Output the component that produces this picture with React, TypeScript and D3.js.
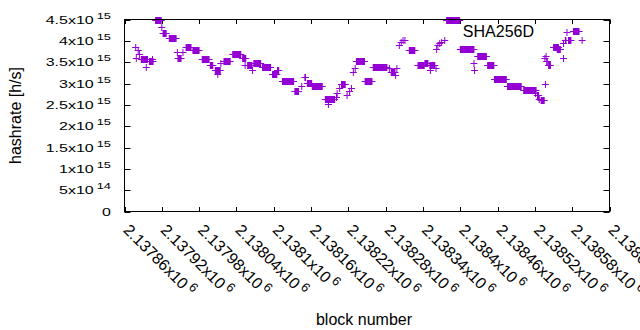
import React, { useEffect, useRef } from 'react';
import * as d3 from 'd3';

// runs of blocks that share the same hashrate estimate (start block, end block, h/s)
const runStart = [
	2137878, 2137882, 2137884, 2137879, 2137887, 2137895, 2137900, 2137905, 2137910, 2137920,
	2137922, 2137932, 2137945, 2137946, 2137954, 2137959, 2137970, 2137985, 2137998, 2138006,
	2138010, 2138015, 2138020, 2138034, 2138050, 2138054, 2138058, 2138066, 2138068, 2138082,
	2138098, 2138106, 2138114, 2138134, 2138145, 2138150, 2138154, 2138162, 2138183, 2138188,
	2138201, 2138202, 2138206, 2138209, 2138218, 2138222, 2138225, 2138228, 2138231, 2138233,
	2138247, 2138260, 2138286, 2138289, 2138298, 2138296, 2138302, 2138305, 2138308, 2138311,
	2138318, 2138332, 2138343, 2138351, 2138352, 2138361, 2138362, 2138364, 2138367, 2138370,
	2138375, 2138378, 2138400, 2138422, 2138423, 2138428, 2138444, 2138455, 2138476, 2138502,
	2138521, 2138524, 2138527, 2138530, 2138537, 2138536, 2138538, 2138539, 2138542, 2138550,
	2138556, 2138566, 2138566, 2138569, 2138574, 2138582, 2138596,
];
const runEnd = [
	2137878, 2137882, 2137884, 2137879, 2137897, 2137895, 2137906, 2137905, 2137919, 2137920,
	2137927, 2137943, 2137945, 2137951, 2137954, 2137967, 2137980, 2137996, 2138002, 2138014,
	2138010, 2138015, 2138030, 2138047, 2138055, 2138054, 2138065, 2138066, 2138079, 2138095,
	2138105, 2138108, 2138132, 2138140, 2138145, 2138151, 2138161, 2138178, 2138198, 2138188,
	2138201, 2138202, 2138206, 2138215, 2138218, 2138222, 2138225, 2138228, 2138231, 2138246,
	2138258, 2138282, 2138286, 2138295, 2138298, 2138296, 2138302, 2138305, 2138308, 2138311,
	2138327, 2138342, 2138348, 2138359, 2138352, 2138361, 2138362, 2138364, 2138367, 2138370,
	2138375, 2138399, 2138422, 2138422, 2138423, 2138442, 2138454, 2138474, 2138498, 2138522,
	2138521, 2138526, 2138527, 2138535, 2138537, 2138536, 2138538, 2138540, 2138545, 2138558,
	2138561, 2138566, 2138566, 2138570, 2138578, 2138591, 2138596,
];
const hashrate = [
	3.867e15, 3.774e15, 3.703e15, 3.586e15, 3.563e15, 3.398e15, 3.539e15, 3.563e15, 4.477e15, 4.313e15,
	4.195e15, 4.055e15, 3.727e15, 3.609e15, 3.727e15, 3.867e15, 3.785e15, 3.563e15, 3.422e15, 3.328e15,
	3.234e15, 3.492e15, 3.516e15, 3.691e15, 3.586e15, 3.422e15, 3.445e15, 3.305e15, 3.469e15, 3.398e15,
	3.211e15, 3.305e15, 3.07e15, 2.813e15, 2.953e15, 3.141e15, 3.012e15, 2.93e15, 2.625e15, 2.531e15,
	2.672e15, 2.789e15, 2.883e15, 3.0e15, 2.719e15, 2.813e15, 2.906e15, 3.258e15, 3.352e15, 3.516e15,
	3.07e15, 3.398e15, 3.352e15, 3.258e15, 3.375e15, 3.188e15, 3.891e15, 3.961e15, 4.008e15, 4.031e15,
	3.785e15, 3.422e15, 3.469e15, 3.422e15, 3.328e15, 3.352e15, 3.82e15, 3.891e15, 3.938e15, 3.984e15,
	4.008e15, 4.477e15, 3.82e15, 3.492e15, 3.328e15, 3.633e15, 3.422e15, 3.117e15, 2.93e15, 2.859e15,
	2.766e15, 2.719e15, 2.648e15, 2.602e15, 3.0e15, 3.586e15, 3.633e15, 3.516e15, 3.445e15, 3.867e15,
	3.797e15, 3.609e15, 3.938e15, 4.008e15, 4.008e15, 4.242e15, 4.031e15,
];

const yTicks = [0, 5e14, 1e15, 1.5e15, 2e15, 2.5e15, 3e15, 3.5e15, 4e15, 4.5e15];
const yTickBase = ['0', '5x10', '1x10', '1.5x10', '2x10', '2.5x10', '3x10', '3.5x10', '4x10', '4.5x10'];
const yTickExp = ['', '14', '15', '15', '15', '15', '15', '15', '15', '15'];
const xTicks = [
	2137860, 2137920, 2137980, 2138040, 2138100, 2138160, 2138220, 2138280, 2138340, 2138400,
	2138460, 2138520, 2138580, 2138640,
];
const xTickBase = [
	'2.13786x10', '2.13792x10', '2.13798x10', '2.13804x10', '2.1381x10', '2.13816x10', '2.13822x10',
	'2.13828x10', '2.13834x10', '2.1384x10', '2.13846x10', '2.13852x10', '2.13858x10', '2.13864x10',
];
const xTickExp = '6';
const seriesName = 'SHA256D';

const FONT = "'Liberation Sans', Arial, sans-serif";
const COLOR = '#9400d3';

const App: React.FC = () => {
	const svgRef = useRef<SVGSVGElement | null>(null);

	useEffect(() => {
		if (!svgRef.current) return;
		const width = 640;
		const height = 330;
		const left = 124.5;
		const right = 609.5;
		const top = 19.5;
		const bottom = 211.5;

		const x = d3.scaleLinear().domain([2137860, 2138640]).range([left, right]);
		const y = d3.scaleLinear().domain([0, 4.5e15]).range([bottom, top]);

		const svg = d3.select(svgRef.current);
		svg.selectAll('*').remove();
		svg.attr('width', width).attr('height', height).attr('viewBox', [0, 0, width, height]);

		svg.append('rect').attr('width', width).attr('height', height).attr('fill', 'white');

		// ticks (mirrored on all sides)
		const ticks = svg.append('g').attr('stroke', 'black').attr('stroke-width', 1);
		yTicks.forEach((t) => {
			const yy = Math.round(y(t)) + 0.5;
			ticks.append('line').attr('x1', left).attr('x2', left + 6).attr('y1', yy).attr('y2', yy);
			ticks.append('line').attr('x1', right).attr('x2', right - 6).attr('y1', yy).attr('y2', yy);
		});
		xTicks.forEach((t) => {
			const xx = Math.round(x(t)) + 0.5;
			ticks.append('line').attr('x1', xx).attr('x2', xx).attr('y1', bottom).attr('y2', bottom - 4.5);
			ticks.append('line').attr('x1', xx).attr('x2', xx).attr('y1', top).attr('y2', top + 4.5);
		});

		// y tick labels
		const yl = svg.append('g').attr('font-family', FONT).attr('font-size', 16).attr('fill', 'black');
		yTicks.forEach((t, i) => {
			const text = yl
				.append('text')
				.attr('text-anchor', 'end')
				.attr('transform', `translate(111,${y(t) + 4.2}) scale(1,0.72)`);
			text.append('tspan').text(yTickBase[i]);
			if (yTickExp[i]) {
				text.append('tspan').attr('dx', 3).attr('dy', -7).attr('font-size', 12.8).text(yTickExp[i]);
			}
		});

		// x tick labels, rotated by 45 degrees
		const xl = svg.append('g').attr('font-family', FONT).attr('font-size', 16).attr('fill', 'black');
		xTicks.forEach((t, i) => {
			const text = xl
				.append('text')
				.attr('transform', `translate(${x(t) - 2},231) rotate(45)`);
			text.append('tspan').text(xTickBase[i]);
			text.append('tspan').attr('dx', 3).attr('dy', -6).attr('font-size', 12.8).text(xTickExp);
		});

		// data: runs of "+" points
		const pts = svg.append('g');
		runStart.forEach((s, i) => {
			const x0 = x(s);
			const x1 = x(runEnd[i]);
			const yy = Math.round(y(hashrate[i])) + 0.5;
			pts
				.append('rect')
				.attr('x', x0 - 0.5)
				.attr('y', yy - 3.5)
				.attr('width', x1 - x0 + 1)
				.attr('height', 7)
				.attr('fill', COLOR);
			pts
				.append('line')
				.attr('x1', x0 - 3.5)
				.attr('x2', x1 + 3.5)
				.attr('y1', yy)
				.attr('y2', yy)
				.attr('stroke', COLOR)
				.attr('stroke-width', 1);
		});

		// border
		svg
			.append('rect')
			.attr('x', left)
			.attr('y', top)
			.attr('width', right - left)
			.attr('height', bottom - top)
			.attr('fill', 'none')
			.attr('stroke', 'black')
			.attr('stroke-width', 1);

		// key
		svg
			.append('text')
			.attr('x', 534)
			.attr('y', 37)
			.attr('text-anchor', 'end')
			.attr('font-family', FONT)
			.attr('font-size', 16)
			.text(seriesName);
		const key = svg.append('g').attr('stroke', COLOR).attr('stroke-width', 1);
		key.append('line').attr('x1', 563.5).attr('x2', 570.5).attr('y1', 32.5).attr('y2', 32.5);
		key.append('line').attr('x1', 567).attr('x2', 567).attr('y1', 29).attr('y2', 36);

		// axis titles
		svg
			.append('text')
			.attr('transform', 'translate(21,115.5) rotate(-90)')
			.attr('text-anchor', 'middle')
			.attr('font-family', FONT)
			.attr('font-size', 16)
			.text('hashrate [h/s]');
		svg
			.append('text')
			.attr('x', 364)
			.attr('y', 325)
			.attr('text-anchor', 'middle')
			.attr('font-family', FONT)
			.attr('font-size', 16)
			.text('block number');
	}, []);

	return <svg ref={svgRef} style={{ position: 'absolute', left: 0, top: 0, display: 'block' }}></svg>;
};

export default App;
